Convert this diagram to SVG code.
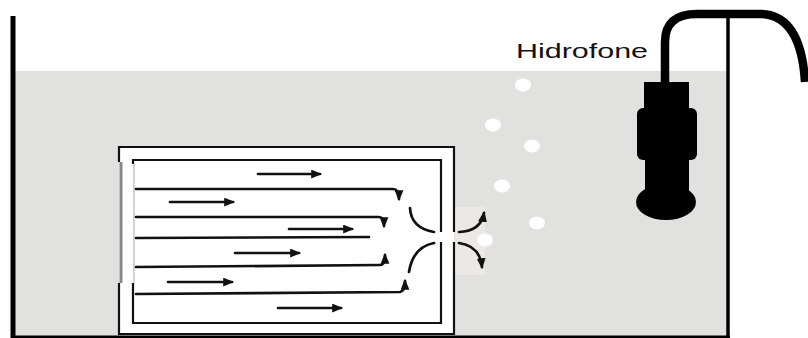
<svg xmlns="http://www.w3.org/2000/svg" width="808" height="338" viewBox="0 0 808 338">
  <style>
    .wall { stroke: #000; fill: none; }
    .box { stroke: #111; stroke-width: 2.2; fill: none; }
    .flow { stroke: #111; stroke-width: 2.7; fill: none; stroke-linecap: round; }
    .bubble { fill: #fff; }
    .solid { fill: #000; }
    .label { font-family: "Liberation Sans", Arial, sans-serif; font-size: 20px; fill: #111; }
  </style>
  <defs>
    <marker id="ah" viewBox="0 0 10 8" refX="8" refY="4" markerWidth="11" markerHeight="9" markerUnits="userSpaceOnUse" orient="auto">
      <path d="M0,0 L10,4 L0,8 z" fill="#111"/>
    </marker>
  </defs>

  <rect width="808" height="338" fill="#fff"/>

  <!-- tank: water, walls and floor -->
  <g id="tank">
    <rect x="15" y="71" width="713" height="267" fill="#e1e2e0"/>
    <line class="wall" x1="13" y1="16" x2="13" y2="338" stroke-width="5"/>
    <line class="wall" x1="728" y1="17" x2="728" y2="338" stroke-width="3.5"/>
    <line class="wall" x1="11" y1="337" x2="730" y2="337" stroke-width="3"/>
  </g>

  <!-- chamber with outlet nozzle -->
  <g id="chamber">
    <rect x="455" y="207" width="30" height="68" fill="#ebe8e6"/>
    <rect x="119" y="147" width="335" height="187" fill="#fff"/>
    <!-- outer wall -->
    <path class="box" d="M119,162 L119,147 L454,147 L454,232 M454,242 L454,334 L119,334 L119,283"/>
    <line x1="121" y1="162" x2="121" y2="283" stroke="#888" stroke-width="3"/>
    <!-- inner wall -->
    <path class="box" d="M133,164 L133,160 L441,160 L441,232 M441,242 L441,323 L133,323 L133,283"/>
    <line x1="134" y1="164" x2="134" y2="283" stroke="#c4c4c4" stroke-width="1.5"/>
  </g>

  <!-- flow paths inside the chamber and through the nozzle -->
  <g id="connectors">
    <line class="flow" x1="258" y1="174" x2="320" y2="174" marker-end="url(#ah)"/>
    <line class="flow" x1="170" y1="202" x2="233" y2="202" marker-end="url(#ah)"/>
    <line class="flow" x1="289" y1="229" x2="352" y2="229" marker-end="url(#ah)"/>
    <line class="flow" x1="235" y1="253" x2="299" y2="253" marker-end="url(#ah)"/>
    <line class="flow" x1="168" y1="282" x2="232" y2="282" marker-end="url(#ah)"/>
    <line class="flow" x1="278" y1="308" x2="341" y2="308" marker-end="url(#ah)"/>

    <path class="flow" d="M136,189 L393,189 Q399,189 399,199" marker-end="url(#ah)"/>
    <path class="flow" d="M136,217 L379,217 Q384,217 384,226" marker-end="url(#ah)"/>
    <path class="flow" d="M136,238 L369,237"/>
    <path class="flow" d="M136,267 L380,265 Q385,265 385,255" marker-end="url(#ah)"/>
    <path class="flow" d="M136,294 L400,292 Q405,291 405,281" marker-end="url(#ah)"/>

    <path class="flow" d="M410,208 Q411,228 434,232"/>
    <path class="flow" d="M434,243 Q413,247 409,272"/>
    <path class="flow" d="M459,232 Q481,231 484,213" marker-end="url(#ah)"/>
    <path class="flow" d="M459,243 Q480,246 482,267" marker-end="url(#ah)"/>
  </g>

  <!-- bubbles -->
  <g id="bubbles">
    <ellipse class="bubble" cx="523" cy="85" rx="8" ry="6.5"/>
    <ellipse class="bubble" cx="493" cy="125" rx="8" ry="6.5"/>
    <ellipse class="bubble" cx="532" cy="146" rx="8" ry="6.5"/>
    <ellipse class="bubble" cx="502" cy="186" rx="8" ry="6.5"/>
    <ellipse class="bubble" cx="537" cy="223" rx="8" ry="6.5"/>
    <ellipse class="bubble" cx="485" cy="240" rx="8" ry="6.5"/>
  </g>

  <!-- hydrophone and cable -->
  <g id="hydrophone">
    <path d="M665,86 L665,42 Q665,14 697,14 L762,14 Q801,16 805,82" fill="none" stroke="#000" stroke-width="8.5"/>
    <rect class="solid" x="644" y="82" width="45" height="30"/>
    <rect class="solid" x="637" y="108" width="60" height="52" rx="6"/>
    <rect class="solid" x="645" y="156" width="44" height="36"/>
    <ellipse class="solid" cx="666" cy="202" rx="30" ry="18"/>
  </g>

  <g id="label">
    <text class="label" x="516" y="57.5" textLength="132" lengthAdjust="spacingAndGlyphs">Hidrofone</text>
  </g>
</svg>
